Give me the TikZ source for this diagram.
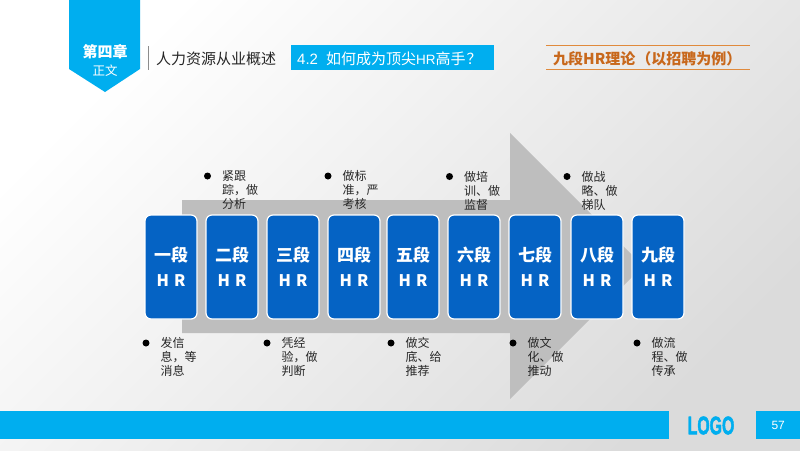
\documentclass[tikz,border=0pt]{standalone}
\usepackage{fontspec}
\setmainfont{Noto Sans CJK SC}
\newfontfamily\latinf{Liberation Sans}
\newfontfamily\logof[UprightFont=*-Bold,FakeBold=2.5]{Liberation Sans}
\definecolor{cyanbar}{HTML}{00AEEF}
\definecolor{stepblue}{HTML}{0563C4}
\definecolor{arrowgrey}{HTML}{BEBEBE}
\definecolor{orangetxt}{HTML}{C8681C}
\definecolor{orangeline}{HTML}{E08A3C}
\newcommand{\fs}[2]{\fontsize{#1}{#2}\selectfont}
\tikzset{
  stagebox/.style={draw=white,line width=1.2pt,fill=stepblue,rounded corners=6pt,minimum width=52pt,minimum height=104pt,inner sep=0pt,text=white,align=center,font=\fs{17}{25}\bfseries},
  bulletdot/.style={circle,fill=black,inner sep=0pt,minimum size=7pt},
  notetext/.style={anchor=west,inner sep=0pt,align=left,text=black!85,font=\fs{12}{14}},
  whitetxt/.style={text=white,inner sep=0pt},
  cyanfill/.style={fill=cyanbar,draw=none}
}
\begin{document}
\begin{tikzpicture}[x=1pt,y=-1pt]
\useasboundingbox (0,0) rectangle (800,450);
\shade[shading=axis,top color=white,middle color=black!5,bottom color=black!14,shading angle=45] (0,0) rectangle (800,450);
% big arrow
\fill[arrowgrey] (182,200) -- (510,200) -- (510,133) -- (643,266) -- (510,399) -- (510,333) -- (182,333) -- cycle;
% header
\fill[cyanfill] (69,0) -- (140,0) -- (140,69) -- (105,92) -- (69,69) -- cycle;
\node[whitetxt,font=\fs{15}{15}\bfseries] (chap) at (105,52) {第四章};
\node[whitetxt,font=\fs{12.5}{13}] (chapsub) at (105,70.5) {正文};
\draw[black!45,line width=1pt] (148.5,46) -- (148.5,70);
\node[anchor=west,inner sep=0pt,text=black!85,font=\fs{15}{15}] (title) at (156,58.5) {人力资源从业概述};
\node[cyanfill,anchor=north west,minimum width=203pt,minimum height=25pt,inner sep=0pt] (secbox) at (291,45) {};
\node[whitetxt,anchor=west,font=\fs{15}{15}] (sectxt) at (297,58.5) {{\latinf 4.2}\hspace{8pt}如何成为顶尖{\latinf\fs{13.5}{14}HR}高手\hspace{1pt}？};
\draw[orangeline,line width=1.2pt] (546,45.5) -- (750,45.5) (546,69.5) -- (750,69.5);
\node[anchor=west,inner sep=0pt,text=orangetxt,font=\fs{15}{15}\bfseries] (theory) at (553,58.5) {九段HR理论\hspace{1pt}（以招聘为例）};
% stage boxes
\foreach \n/\cx/\lab in {1/171/一段,2/232/二段,3/293/三段,4/354/四段,5/413/五段,6/474/六段,7/535/七段,8/597/八段,9/658/九段}{
  \node[stagebox] (s\n) at (\cx,267) {\lab\\[0pt]{\fs{16}{16}H\hspace{5pt}R}};
}
% notes above
\foreach \n/\bx/\ty/\t in {a/207.5/176/{紧跟\\踪，做\\分析},b/328/176/{做标\\准，严\\考核},c/449.5/176.5/{做培\\训、做\\监督},d/567/176.5/{做战\\略、做\\梯队},e/146/343/{发信\\息，等\\消息},f/267/343/{凭经\\验，做\\判断},g/391/343/{做交\\底、给\\推荐},h/513/343/{做文\\化、做\\推动},i/637/343/{做流\\程、做\\传承}}{
  \node[bulletdot] (dot\n) at (\bx,\ty) {};
  \node[notetext,anchor=north west] (note\n) at ([xshift=14.5pt,yshift=5.5pt]dot\n.center) {\t};
}
% footer
\fill[cyanfill] (0,411) rectangle (669,439);
\node[cyanfill,anchor=north west,minimum width=44pt,minimum height=28pt,inner sep=0pt,text=white,font=\fs{12}{12}] (page) at (756,411) {\latinf 57};
\node[inner sep=0pt,text=cyanbar,font=\fs{22}{22},xscale=.72,yscale=1.15] (logo) at (711,425.5) {\logof LOGO};
\end{tikzpicture}
\end{document}
